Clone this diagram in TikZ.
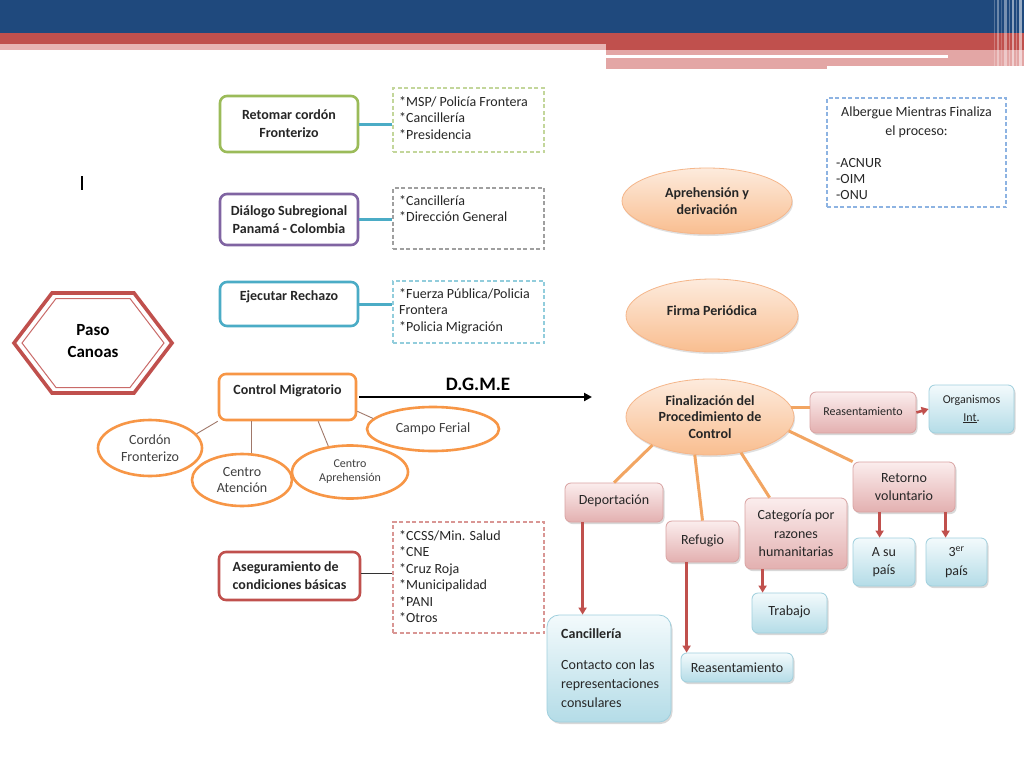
\documentclass[tikz,border=0pt]{standalone}
\usepackage{fontspec}
\setmainfont{Carlito}
\usetikzlibrary{shapes.geometric,shadows,arrows.meta,calc}
\definecolor{navy}{HTML}{1F497D}
\definecolor{bred}{HTML}{C0504D}
\definecolor{bpink}{HTML}{E3A6A5}
\definecolor{bpinkl}{HTML}{E8B4B3}
\definecolor{ogreen}{HTML}{9BBB59}
\definecolor{opurple}{HTML}{8064A2}
\definecolor{oteal}{HTML}{4BACC6}
\definecolor{oorange}{HTML}{F79646}
\definecolor{lorange}{HTML}{F2A562}
\definecolor{dgreen}{HTML}{C3D69B}
\definecolor{dteal}{HTML}{92CDDC}
\definecolor{dred}{HTML}{D99694}
\definecolor{dblue}{HTML}{8DB3E2}
\definecolor{txt}{HTML}{262626}
\definecolor{thinc}{HTML}{A0786A}
\definecolor{pinktop}{HTML}{FBEDED}
\definecolor{pinkbot}{HTML}{E3B0B0}
\definecolor{pinkbd}{HTML}{D9A3A2}
\definecolor{bluetop}{HTML}{F3FAFC}
\definecolor{bluebot}{HTML}{B4DCE7}
\definecolor{bluebd}{HTML}{9FCFDD}
\definecolor{peachtop}{HTML}{FDEBDD}
\definecolor{peachbot}{HTML}{F9BE90}
\definecolor{peachbd}{HTML}{F5B68A}
\tikzset{
  every node/.style={text=txt},
  tbox/.style={draw, rounded corners=7pt, line width=2.6pt, fill=white, inner sep=0pt, align=center,
    font=\bfseries\fontsize{14}{18}\selectfont},
  dbox/.style={draw, dash pattern=on 4pt off 2.5pt, line width=1.1pt, inner sep=0pt},
  dtext/.style={anchor=north west, align=left, inner sep=0pt, font=\fontsize{14}{16.5}\selectfont},
  oell/.style={ellipse, draw=oorange, line width=2.6pt, fill=white, inner sep=0pt, align=center,
    font=\fontsize{14}{16.5}\selectfont, text=black!75},
  pell/.style={ellipse, draw=peachbd, line width=0.8pt, top color=peachtop, bottom color=peachbot,
    inner sep=0pt, align=center, font=\bfseries\fontsize{14}{16.5}\selectfont,
    drop shadow={shadow xshift=1pt, shadow yshift=-2pt, opacity=0.25}},
  pbox/.style={draw=pinkbd, line width=0.8pt, rounded corners=6pt, top color=pinktop, bottom color=pinkbot,
    inner sep=0pt, align=center, font=\fontsize{14}{18.5}\selectfont,
    drop shadow={shadow xshift=1.5pt, shadow yshift=-2pt, opacity=0.3}},
  bbox/.style={draw=bluebd, line width=0.8pt, rounded corners=6pt, top color=bluetop, bottom color=bluebot,
    inner sep=0pt, align=center, font=\fontsize{14}{18.5}\selectfont,
    drop shadow={shadow xshift=1.5pt, shadow yshift=-2pt, opacity=0.3}},
  tealcon/.style={draw=oteal, line width=3pt},
  thincon/.style={draw=thinc, line width=0.9pt},
  orcon/.style={draw=lorange, line width=3pt},
  redarr/.style={draw=bred, line width=2.6pt, -{Triangle[width=8pt,length=7pt]}},
}
\begin{document}
\begin{tikzpicture}[x=1pt,y=-1pt]
\useasboundingbox (0,0) rectangle (1024,768);
\fill[white] (0,0) rectangle (1024,768);
% banner
\fill[navy] (0,0) rectangle (1024,33);
\fill[bred] (0,33) rectangle (1024,44);
\fill[bpinkl] (0,44) rectangle (606,50);
\fill[bred] (606,44) rectangle (1024,50);
\fill[bpink] (606,50) rectangle (1024,69);
\fill[white] (606,55) rectangle (948,58);
\fill[white] (827,66) rectangle (1024,69);
\foreach \xx/\ww/\oo in {994/1/0.25,997/2/0.35,1001/1/0.2,1004/3/0.4,1009/1/0.3,1012/2/0.5,1016/1/0.3,1019/3/0.55}
  \fill[white, opacity=\oo] (\xx,0) rectangle (\xx+\ww,69);
% cursor mark
\fill[black] (81,176) rectangle (83,190);

% left column
\node[tbox, draw=ogreen, minimum width=138, minimum height=56] (rc) at (289,124) {Retomar cordón\\Fronterizo};
\node[tbox, draw=opurple, minimum width=138, minimum height=51] (ds) at (289,219.5) {Diálogo Subregional\\Panamá - Colombia};
\node[tbox, draw=oteal, minimum width=138, minimum height=44] (er) at (289,304) {};
\node[font=\bfseries\fontsize{14}{16}\selectfont, inner sep=0pt] (ert) at ($(er.north)+(0,16)$) {Ejecutar Rechazo};
\node[tbox, draw=oorange, minimum width=137, minimum height=46] (cm) at (287.5,397) {};
\node[font=\bfseries\fontsize{14}{16}\selectfont, inner sep=0pt] (cmt) at ($(cm.north)+(0,18)$) {Control Migratorio};
\node[tbox, draw=bred, minimum width=141, minimum height=48, align=left] (ab) at (289.5,576) {Aseguramiento de\\condiciones básicas};

% dashed boxes
\node[dbox, draw=dgreen, minimum width=151, minimum height=64] (d1) at (468.5,120) {};
\node[dtext] (d1t) at (399,96) {*MSP/ Policía Frontera\\*Cancillería\\*Presidencia};
\node[dbox, draw=gray!75, minimum width=151, minimum height=61] (d2) at (468.5,218.5) {};
\node[dtext] (d2t) at (399,195) {*Cancillería\\*Dirección General};
\node[dbox, draw=dteal, minimum width=151, minimum height=62] (d3) at (468.5,312) {};
\node[dtext] (d3t) at (399,288) {*Fuerza Pública/Policia\\Frontera\\*Policia Migración};
\node[dbox, draw=dred, minimum width=151, minimum height=111] (d4) at (468.5,577.5) {};
\node[dtext] (d4t) at (399,530) {*CCSS/Min. Salud\\*CNE\\*Cruz Roja\\*Municipalidad\\*PANI\\*Otros};

\draw[tealcon] (rc.east) -- (rc.east -| d1.west);
\draw[tealcon] (ds.east) -- (ds.east -| d2.west);
\draw[tealcon] (er.east) -- (er.east -| d3.west);
\draw[draw=black!80, line width=1pt] (ab.east) ++(0,-3) coordinate (abe) -- (abe -| d4.west);

% Paso Canoas hexagon
\draw[bred, line width=3.6pt, line join=miter] (14,343) -- (52,293) -- (134,293) -- (172,343) -- (134,393) -- (52,393) -- cycle;
\draw[bred!85, line width=1pt, line join=miter] (22,343) -- (56,298.5) -- (130,298.5) -- (164,343) -- (130,387.5) -- (56,387.5) -- cycle;
\node[font=\bfseries\fontsize{17}{22}\selectfont, align=center, text=black] (pc) at (93,341) {Paso\\Canoas};

% ellipses around Control Migratorio
\node[oell, minimum width=104, minimum height=56] (cf) at (150,448) {Cordón\\Fronterizo};
\node[oell, minimum width=100, minimum height=52] (ca) at (242,480) {Centro\\Atención};
\node[oell, minimum width=116, minimum height=53, font=\fontsize{12}{14}\selectfont] (cap) at (350,472) {Centro\\Aprehensión};
\node[oell, minimum width=132, minimum height=44] (cfe) at (433,429) {Campo Ferial};
\draw[thincon] (cm.south west) -- (cf.17);
\draw[thincon] (ca.70) -- (ca.70 |- cm.south);
\draw[thincon] ($(cm.south west)!0.72!(cm.south east)$) -- (cap.130);
\draw[thincon] ($(cm.south east)+(0,-10)$) -- (cfe.170);

% DGME arrow
\coordinate (dgend) at (592,397);
\draw[black, line width=2.4pt, -{Triangle[width=8pt,length=8pt]}] ($(cm.east)+(2,0)$) -- (dgend);
\node[font=\bfseries\fontsize{19}{20}\selectfont, text=black, inner sep=0pt] (dg) at (478,384) {D.G.M.E};

% right side
\node[dbox, draw=dblue, minimum width=179, minimum height=109] (alb) at (916.5,152.5) {};
\node[align=center, inner sep=0pt, font=\fontsize{14}{19}\selectfont, anchor=north] (albt) at (916.5,107) {Albergue Mientras Finaliza\\el proceso:};
\node[dtext, font=\fontsize{14}{16}\selectfont] (albl) at (836,158) {-ACNUR\\-OIM\\-ONU};

\node[pell, minimum width=170, minimum height=66] (ad) at (707,201) {Aprehensión y\\derivación};
\node[pell, minimum width=172, minimum height=73] (fp) at (712,315.5) {\raisebox{9pt}{Firma Periódica}};
\node[pell, minimum width=168, minimum height=76] (fin) at (710,417) {Finalización del\\Procedimiento de\\Control};

\node[pbox, minimum width=106, minimum height=41, font=\fontsize{12}{14}\selectfont] (reas) at (863,412.5) {\raisebox{3pt}{Reasentamiento}};
\node[pbox, minimum width=98, minimum height=39] (dep) at (614,502.5) {\raisebox{5pt}{Deportación}};
\node[pbox, minimum width=73, minimum height=41] (ref) at (702.5,541.5) {\raisebox{4pt}{Refugio}};
\node[pbox, minimum width=102, minimum height=71] (cat) at (796,533.5) {Categoría por\\razones\\humanitarias};
\node[pbox, minimum width=102, minimum height=50] (ret) at (904,487) {Retorno\\voluntario};

\node[bbox, minimum width=85, minimum height=48, font=\fontsize{12}{18}\selectfont] (org) at (971.5,409) {Organismos\\\underline{Int}.};
\node[bbox, minimum width=62, minimum height=48] (asu) at (884,562) {A su\\país};
\node[bbox, minimum width=61, minimum height=48] (ter) at (956.5,562) {3\textsuperscript{er}\\país};
\node[bbox, minimum width=75, minimum height=40] (trab) at (789.5,613) {\raisebox{5pt}{Trabajo}};
\node[bbox, minimum width=112, minimum height=29] (reas2) at (737,667.5) {Reasentamiento};
\node[bbox, minimum width=124, minimum height=107, rounded corners=12pt] (canc) at (609,668.5) {};
\node[dtext, font=\fontsize{14}{19}\selectfont] (canct) at (561,628) {\textbf{Cancillería}\\[12pt]Contacto con las\\representaciones\\consulares};

% orange connectors
\draw[orcon] (fin.206) -- (dep.north);
\draw[orcon] (fin.248) -- (ref.north);
\draw[orcon] (fin.311) -- ($(cat.north west)+(25,0)$);
\draw[orcon] (fin.350) -- (ret.north west);
\draw[orcon] (fin.7) -- (fin.7 -| reas.west);

% red arrows
\draw[redarr] (reas.east) -- (org.west);
\draw[redarr] ($(dep.south west)+(18,0)$) coordinate (a1) -- (a1 |- canc.north);
\draw[redarr] ($(ref.south west)+(21,0)$) coordinate (a2) -- (a2 |- reas2.north);
\draw[redarr] ($(cat.south west)+(18,0)$) coordinate (a3) -- (a3 |- trab.north);
\draw[redarr] ($(ret.south west)+(27,0)$) coordinate (a4) -- (a4 |- asu.north);
\draw[redarr] ($(ret.south west)+(93,0)$) coordinate (a5) -- (a5 |- ter.north);
\end{tikzpicture}
\end{document}
